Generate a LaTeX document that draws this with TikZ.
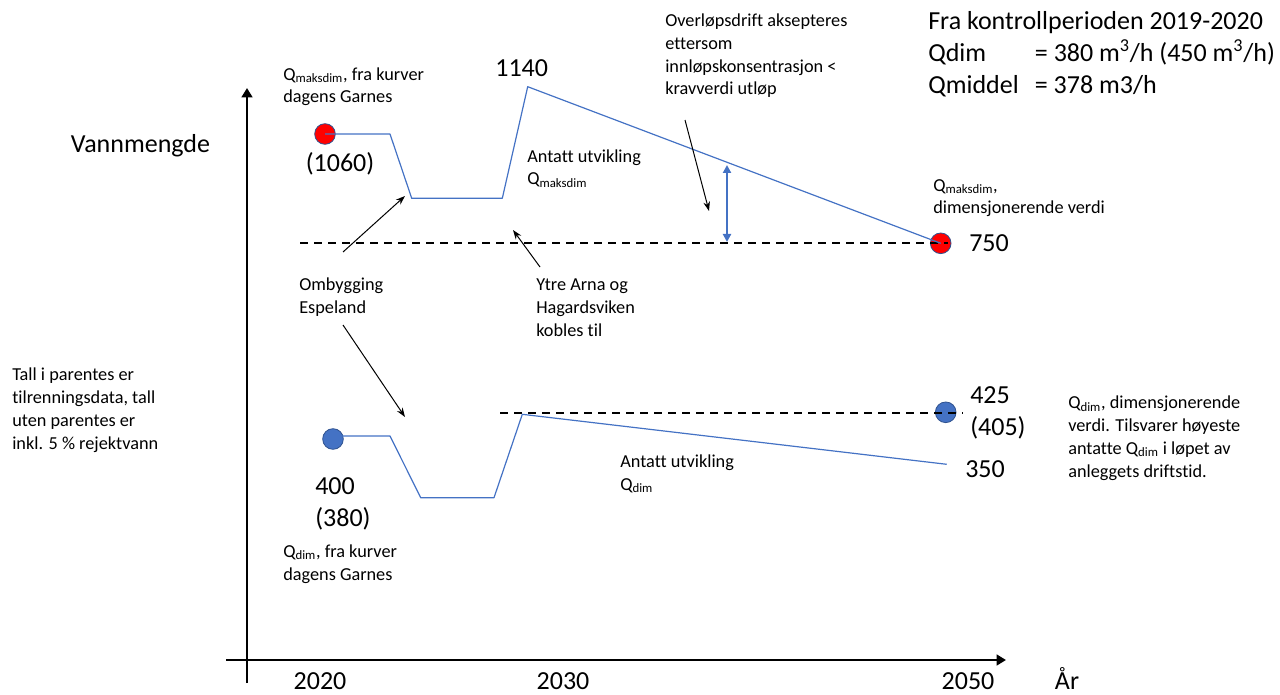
\documentclass[tikz,border=0pt]{standalone}
\usepackage{fontspec}
\setmainfont[Ligatures=NoCommon]{Carlito}
\usetikzlibrary{arrows.meta}
\definecolor{obl}{HTML}{4472C4}
\definecolor{obd}{HTML}{2F528F}
\begin{document}
\begin{tikzpicture}[x=0.75pt,y=-0.75pt,
 sm/.style={font=\fontsize{13.7}{17.2}\selectfont, inner sep=0, align=left, anchor=base west},
 bg/.style={font=\fontsize{19.5}{24}\selectfont, inner sep=0, align=left, anchor=base west},
 curve/.style={obl, line width=0.9pt, line join=round},
 dashln/.style={black, line width=1.5pt, dash pattern=on 6pt off 4.5pt},
 axis/.style={line width=2.2pt, -{Triangle[length=7pt,width=8pt]}},
 note/.style={line width=0.75pt, -{Stealth[length=7pt,width=5pt]}},
 dot/.style={circle, minimum size=15.5pt, inner sep=0, draw=obd, line width=0.6pt}]
\useasboundingbox (0,0) rectangle (1280,695);

% axes
\coordinate (yb) at (247,683);
\coordinate (yt) at (247,88);
\coordinate (xl) at (226,660);
\coordinate (xr) at (1006,660);
\draw[axis] (yb) -- (yt);
\draw[axis] (xl) -- (xr);

% dots
\node[dot, fill=red] (r1) at (325,134) {};
\node[dot, fill=red] (r2) at (940.7,243.3) {};
\node[dot, fill=obl] (b1) at (333,439) {};
\node[dot, fill=obl] (b2) at (945.7,412.3) {};

% dashed levels
\coordinate (d1a) at (300,243.3);
\coordinate (d1b) at (948,243.3);
\coordinate (d2a) at (500,413.3);
\coordinate (d2b) at (963,413.3);
\draw[dashln] (d1a) -- (d1b);
\draw[dashln] (d2a) -- (d2b);

% top curve
\coordinate (t1) at (390,134);
\coordinate (t2) at (411.7,198.3);
\coordinate (t3) at (502.3,198.3);
\coordinate (t4) at (527.7,86.7);
\draw[curve] (r1.center) -- (t1) -- (t2) -- (t3) -- (t4) -- (r2.center);

% bottom curve
\coordinate (u0) at (333,436);
\coordinate (u1) at (390,436);
\coordinate (u2) at (420.7,497.7);
\coordinate (u3) at (494,497.7);
\coordinate (u4) at (522.3,414.3);
\coordinate (u5) at (946.7,464.3);
\draw[curve] (u0) -- (u1) -- (u2) -- (u3) -- (u4) -- (u5);

% blue double arrow
\coordinate (ba) at (727,165);
\coordinate (bb) at (727,242);
\draw[obl, line width=1.5pt, {Triangle[length=6pt,width=6pt]}-{Triangle[length=6pt,width=6pt]}] (ba) -- (bb);

% annotation arrows
\coordinate (a1s) at (343,252);
\coordinate (a1e) at (405,196);
\coordinate (a2s) at (343,325);
\coordinate (a2e) at (405,417);
\coordinate (a3s) at (540,267);
\coordinate (a3e) at (513,230);
\coordinate (a4s) at (685,120);
\coordinate (a4e) at (709,211);
\draw[note] (a1s) -- (a1e);
\draw[note] (a2s) -- (a2e);
\draw[note] (a3s) -- (a3e);
\draw[note] (a4s) -- (a4e);

% texts (multi-line nodes are placed by the baseline of their last line)
\node[bg, anchor=base] (vann) at (140.5,153) {Vannmengde};
\node[sm] (qmtl) at (283,103) {Q\textsubscript{maksdim}, fra kurver\\dagens Garnes};
\node[bg, anchor=base] (v1140) at (521.7,77) {1140};
\node[bg, anchor=base] (v1060) at (340,172) {(1060)};
\node[sm] (antm) at (527,185) {Antatt utvikling\\Q\textsubscript{maksdim}};
\node[sm] (qmr) at (933,214) {Q\textsubscript{maksdim},\\dimensjonerende verdi};
\node[bg] (v750) at (969,252) {750};
\node[sm] (over) at (665,95) {Overløpsdrift aksepteres\\ettersom\\innløpskonsentrasjon <\\kravverdi utløp};
\node[bg] (fra) at (928,94) {Fra kontrollperioden 2019-2020\\\makebox[80pt][l]{Qdim}= 380 m\textsuperscript{3}/h (450 m\textsuperscript{3}/h)\\\makebox[80pt][l]{Qmiddel}= 378 m3/h};
\node[sm] (omb) at (299,313) {Ombygging\\Espeland};
\node[sm] (ytre) at (536,336) {Ytre Arna og\\Hagardsviken\\kobles til};
\node[sm] (tall) at (12,449) {Tall i parentes er\\tilrenningsdata, tall\\uten parentes er\\inkl. 5 \% rejektvann};
\node[bg] (v400) at (315,526) {400\\(380)};
\node[sm] (qdl) at (283,580) {Q\textsubscript{dim}, fra kurver\\dagens Garnes};
\node[sm] (antd) at (620,490) {Antatt utvikling\\Q\textsubscript{dim}};
\node[bg] (v425) at (970,435) {425\\(405)};
\node[bg] (v350) at (965,477) {350};
\node[sm] (qdr) at (1068,477) {Q\textsubscript{dim}, dimensjonerende\\verdi. Tilsvarer høyeste\\antatte Q\textsubscript{dim} i løpet av\\anleggets driftstid.};
\node[bg, anchor=base] (y2020) at (320,689) {2020};
\node[bg, anchor=base] (y2030) at (563,689) {2030};
\node[bg, anchor=base] (y2050) at (968,689) {2050};
\node[bg, anchor=base] (yar) at (1067,689) {År};
\end{tikzpicture}
\end{document}
